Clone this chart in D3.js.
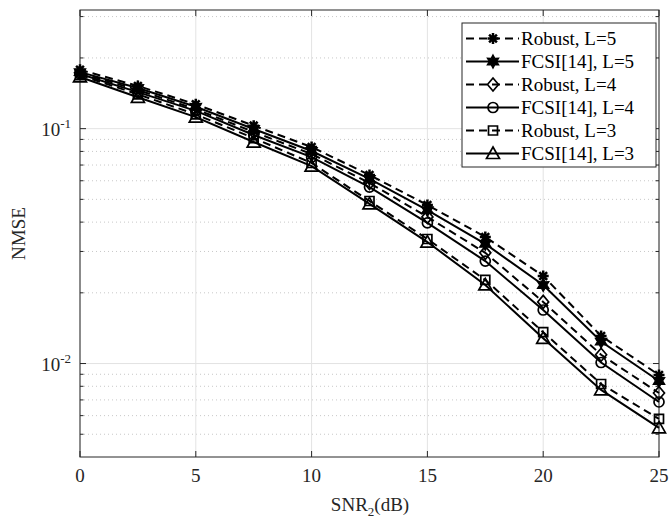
<!DOCTYPE html>
<html>
<head>
<meta charset="utf-8">
<script src="https://cdn.jsdelivr.net/npm/d3@7"></script>
<style>
  html, body { margin: 0; padding: 0; background: #fff; }
  svg { display: block; font-family: "Liberation Serif", "Times New Roman", serif; }
</style>
</head>
<body>
<svg id="chart" width="669" height="521"></svg>
<script>
// ---------- data ----------
const snr = [0, 2.5, 5, 7.5, 10, 12.5, 15, 17.5, 20, 22.5, 25];
const robustL5 = [0.178, 0.152, 0.127, 0.103, 0.0835, 0.0635, 0.0473, 0.0346, 0.0236, 0.0131, 0.00894];
const fcsiL5   = [0.174, 0.149, 0.124, 0.0997, 0.0803, 0.0611, 0.0450, 0.0323, 0.0216, 0.0124, 0.00843];
const robustL4 = [0.173, 0.146, 0.121, 0.0968, 0.0780, 0.0587, 0.0421, 0.0296, 0.0183, 0.0109, 0.00749];
const fcsiL4   = [0.171, 0.143, 0.119, 0.0940, 0.0757, 0.0564, 0.0397, 0.0273, 0.0169, 0.0101, 0.00686];
const robustL3 = [0.169, 0.140, 0.115, 0.0912, 0.0714, 0.0492, 0.0339, 0.0227, 0.0136, 0.00818, 0.00581];
const fcsiL3   = [0.166, 0.136, 0.112, 0.0877, 0.0693, 0.0478, 0.0329, 0.0216, 0.0128, 0.00772, 0.00532];
const seriesNames = ["Robust, L=5", "FCSI[14], L=5", "Robust, L=4", "FCSI[14], L=4", "Robust, L=3", "FCSI[14], L=3"];
const xTicks = [0, 5, 10, 15, 20, 25];
const yMajorTicks = [0.01, 0.1];
const yMajorLabels = ["-2", "-1"];
const yMinorTicks = [0.005, 0.006, 0.007, 0.008, 0.009, 0.02, 0.03, 0.04, 0.05, 0.06, 0.07, 0.08, 0.09, 0.2, 0.3];

const series = [
  { name: seriesNames[0], values: robustL5, dashed: true,  marker: "asterisk" },
  { name: seriesNames[1], values: fcsiL5,   dashed: false, marker: "hexagram" },
  { name: seriesNames[2], values: robustL4, dashed: true,  marker: "diamond" },
  { name: seriesNames[3], values: fcsiL4,   dashed: false, marker: "circle" },
  { name: seriesNames[4], values: robustL3, dashed: true,  marker: "square" },
  { name: seriesNames[5], values: fcsiL3,   dashed: false, marker: "triangle" }
];

// ---------- layout ----------
const L = 80, R = 659, T = 10, B = 457;
const svg = d3.select("#chart");
const x = d3.scaleLinear().domain([0, 25]).range([L, R]);
const y = d3.scaleLog().domain([0.004, 0.32]).range([B, T]);
const axisColor = "#262626";

// ---------- grid ----------
const grid = svg.append("g");
grid.selectAll("line.ym").data(yMinorTicks).join("line")
  .attr("x1", L).attr("x2", R)
  .attr("y1", d => y(d)).attr("y2", d => y(d))
  .attr("stroke", "#c8c8c8").attr("stroke-width", 1)
  .attr("stroke-dasharray", "1,3");
grid.selectAll("line.yM").data(yMajorTicks).join("line")
  .attr("x1", L).attr("x2", R)
  .attr("y1", d => y(d)).attr("y2", d => y(d))
  .attr("stroke", "#e3e3e3").attr("stroke-width", 1);
grid.selectAll("line.xM").data(xTicks).join("line")
  .attr("x1", d => x(d)).attr("x2", d => x(d))
  .attr("y1", T).attr("y2", B)
  .attr("stroke", "#e3e3e3").attr("stroke-width", 1);

// ---------- axes (ticks inward, box) ----------
const ax = svg.append("g").attr("fill", "none").attr("stroke", axisColor).attr("stroke-width", 1);
ax.append("rect").attr("x", L).attr("y", T).attr("width", R - L).attr("height", B - T);
const tl = 6, tlm = 3.5;
xTicks.forEach(t => {
  ax.append("line").attr("x1", x(t)).attr("x2", x(t)).attr("y1", B).attr("y2", B - tl);
  ax.append("line").attr("x1", x(t)).attr("x2", x(t)).attr("y1", T).attr("y2", T + tl);
});
yMajorTicks.forEach(t => {
  ax.append("line").attr("x1", L).attr("x2", L + tl).attr("y1", y(t)).attr("y2", y(t));
  ax.append("line").attr("x1", R).attr("x2", R - tl).attr("y1", y(t)).attr("y2", y(t));
});
yMinorTicks.forEach(t => {
  ax.append("line").attr("x1", L).attr("x2", L + tlm).attr("y1", y(t)).attr("y2", y(t));
  ax.append("line").attr("x1", R).attr("x2", R - tlm).attr("y1", y(t)).attr("y2", y(t));
});

// tick labels
svg.append("g").selectAll("text").data(xTicks).join("text")
  .attr("x", d => x(d)).attr("y", 482)
  .attr("text-anchor", "middle").attr("font-size", 19).attr("fill", axisColor)
  .text(d => d);
yMajorTicks.forEach((t, i) => {
  const tx = svg.append("text").attr("x", 71).attr("y", y(t) + 7)
    .attr("text-anchor", "end").attr("font-size", 19).attr("fill", axisColor);
  tx.append("tspan").text("10");
  tx.append("tspan").attr("dy", -8).attr("font-size", 13).text(yMajorLabels[i]);
});

// axis titles
const xl = svg.append("text").attr("x", 370).attr("y", 511)
  .attr("text-anchor", "middle").attr("font-size", 19).attr("fill", axisColor);
xl.append("tspan").text("SNR");
xl.append("tspan").attr("dy", 5).attr("font-size", 13).text("2");
xl.append("tspan").attr("dy", -5).text("(dB)");
svg.append("text").attr("transform", "translate(25," + ((T + B) / 2) + ") rotate(-90)")
  .attr("text-anchor", "middle").attr("font-size", 19).attr("fill", axisColor)
  .text("NMSE");

// ---------- markers ----------
function markerPath(type) {
  const p = d3.path();
  if (type === "asterisk") {
    const r = 5.5;
    for (let k = 0; k < 4; k++) {
      const a = k * Math.PI / 4;
      p.moveTo(-r * Math.cos(a), -r * Math.sin(a));
      p.lineTo(r * Math.cos(a), r * Math.sin(a));
    }
    return p.toString();
  }
  if (type === "hexagram") {
    const ro = 6.5, ri = 3.6;
    for (let k = 0; k < 12; k++) {
      const a = -Math.PI / 2 + k * Math.PI / 6;
      const r = k % 2 === 0 ? ro : ri;
      if (k === 0) p.moveTo(r * Math.cos(a), r * Math.sin(a));
      else p.lineTo(r * Math.cos(a), r * Math.sin(a));
    }
    p.closePath();
    return p.toString();
  }
  if (type === "diamond") {
    p.moveTo(0, -6.5); p.lineTo(5.5, 0); p.lineTo(0, 6.5); p.lineTo(-5.5, 0); p.closePath();
    return p.toString();
  }
  if (type === "circle") {
    p.arc(0, 0, 5, 0, 2 * Math.PI);
    return p.toString();
  }
  if (type === "square") {
    p.rect(-4.5, -4.5, 9, 9);
    return p.toString();
  }
  if (type === "triangle") {
    p.moveTo(0, -6.5); p.lineTo(6.5, 5); p.lineTo(-6.5, 5); p.closePath();
    return p.toString();
  }
}
function drawMarker(g, type, cx, cy) {
  const m = g.append("path").attr("d", markerPath(type))
    .attr("transform", "translate(" + cx + "," + cy + ")")
    .attr("stroke", "#000").attr("stroke-width", 1.7).attr("fill", "none");
  if (type === "asterisk") m.attr("stroke-width", 2.5);
  if (type === "hexagram") m.attr("fill", "#000").attr("stroke-width", 1.3);
}

// ---------- lines ----------
const line = d3.line().x((d, i) => x(snr[i])).y(d => y(d));
const plot = svg.append("g");
series.forEach(s => {
  plot.append("path").datum(s.values)
    .attr("d", line)
    .attr("fill", "none").attr("stroke", "#000").attr("stroke-width", 2)
    .attr("stroke-dasharray", s.dashed ? "8,5" : null);
});
series.forEach(s => {
  const g = plot.append("g");
  s.values.forEach((v, i) => drawMarker(g, s.marker, x(snr[i]), y(v)));
});

// ---------- legend ----------
const lg = svg.append("g");
lg.append("rect").attr("x", 462).attr("y", 23).attr("width", 194).attr("height", 144)
  .attr("fill", "#fff").attr("stroke", axisColor).attr("stroke-width", 1);
series.forEach((s, i) => {
  const cy = 38.5 + i * 23;
  lg.append("line").attr("x1", 466).attr("x2", 519).attr("y1", cy).attr("y2", cy)
    .attr("stroke", "#000").attr("stroke-width", 2)
    .attr("stroke-dasharray", s.dashed ? "8,5" : null);
  drawMarker(lg, s.marker, 493, cy);
  lg.append("text").attr("x", 521).attr("y", cy + 6.5)
    .attr("font-size", 19).attr("fill", "#000").text(s.name);
});
</script>
</body>
</html>
